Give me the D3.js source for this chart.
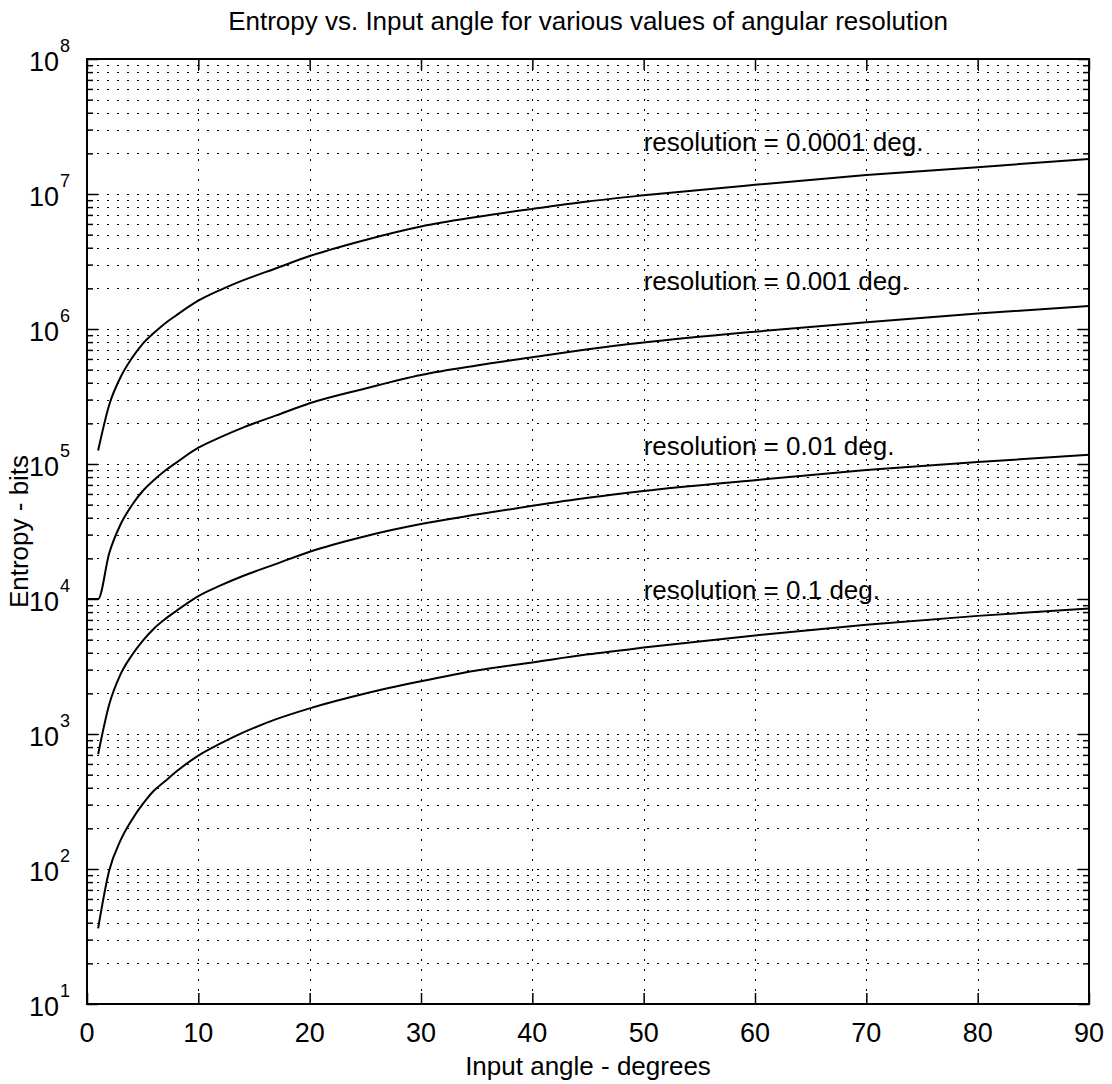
<!DOCTYPE html>
<html>
<head>
<meta charset="UTF-8">
<title>Entropy vs. Input angle</title>
<script src="https://d3js.org/d3.v7.min.js"></script>
<style>
  body { margin: 0; background: #fff; }
  text { font-family: "Liberation Sans", Arial, Helvetica, sans-serif; fill: #000; }
</style>
</head>
<body>
<script>
var w = 1112, h = 1084;

// input angle (degrees)
var angles = [1, 2, 3, 4, 5, 6, 7, 8, 10, 12, 14, 17, 20, 25, 30, 35, 40, 45, 50, 60, 70, 80, 90];

// entropy in bits
var res00001 = [1.26e5, 2.75e5, 4.37e5, 6.03e5, 7.76e5, 9.33e5, 1.10e6, 1.26e6, 1.62e6, 1.95e6, 2.29e6, 2.82e6,
                3.47e6, 4.57e6, 5.75e6, 6.76e6, 7.76e6, 8.81e6, 9.77e6, 1.17e7, 1.38e7, 1.58e7, 1.82e7];
var res0001  = [1.0e4, 2.19e4, 3.55e4, 4.9e4, 6.31e4, 7.59e4, 8.91e4, 1.02e5, 1.32e5, 1.58e5, 1.86e5, 2.29e5,
                2.82e5, 3.63e5, 4.57e5, 5.37e5, 6.17e5, 7.08e5, 7.94e5, 9.55e5, 1.12e6, 1.30e6, 1.48e6];
var res001   = [708, 1660, 2754, 3802, 4898, 6026, 7079, 8128, 1.05e4, 1.26e4, 1.48e4, 1.82e4,
                2.24e4, 2.92e4, 3.59e4, 4.22e4, 4.9e4, 5.62e4, 6.31e4, 7.59e4, 9.02e4, 1.035e5, 1.17e5];
var res01    = [36.3, 97.7, 162, 229, 302, 380, 447, 525, 692, 851, 1023, 1288,
                1549, 1995, 2455, 2951, 3388, 3890, 4365, 5370, 6457, 7499, 8511];

// the 0.001 curve also has a flat piece starting at 0 deg
var res0001Start = [0, 1.0e4];

var seriesLabels = ["resolution = 0.0001 deg.", "resolution = 0.001 deg.", "resolution = 0.01 deg.", "resolution = 0.1 deg."];
var labelAnchors = [[50, 2.1e7], [50, 1.95e6], [50, 1.17e5], [50, 1.0e4]];

var xTicks = [0, 10, 20, 30, 40, 50, 60, 70, 80, 90];
var yDecades = [1, 2, 3, 4, 5, 6, 7, 8]; // exponents

var plotL = 87, plotR = 1089, plotT = 59, plotB = 1004;

var x = d3.scaleLinear().domain([0, 90]).range([plotL, plotR]);
var y = d3.scaleLog().domain([10, 1e8]).range([plotB, plotT]);

var svg = d3.select("body").append("svg")
  .attr("width", w)
  .attr("height", h);

// minor values 2..9 for each decade
var minorVals = [];
for (var e = 1; e < 8; e++) {
  for (var k = 2; k <= 9; k++) minorVals.push(k * Math.pow(10, e));
}
var majorVals = yDecades.map(function(p) { return Math.pow(10, p); });

// dotted grid
var grid = svg.append("g")
  .attr("stroke", "#000")
  .attr("stroke-width", 1.2)
  .attr("stroke-dasharray", "1.5,8.5")
  .attr("shape-rendering", "crispEdges");

grid.selectAll(".hg")
  .data(minorVals.concat(majorVals.slice(1, -1)))
  .enter().append("line")
  .attr("x1", plotL).attr("x2", plotR)
  .attr("y1", function(d) { return Math.round(y(d)) + 0.5; })
  .attr("y2", function(d) { return Math.round(y(d)) + 0.5; });

grid.selectAll(".vg")
  .data(xTicks.slice(1, -1))
  .enter().append("line")
  .attr("y1", plotT).attr("y2", plotB)
  .attr("x1", function(d) { return Math.round(x(d)) + 0.5; })
  .attr("x2", function(d) { return Math.round(x(d)) + 0.5; });

// axes with inward ticks
function styleAxis(g) {
  g.selectAll("path").remove();
  g.selectAll("line").attr("stroke", "#000").attr("stroke-width", 1.5);
  g.selectAll("text").remove();
}

svg.append("g").attr("transform", "translate(" + plotL + ",0)")
  .call(d3.axisLeft(y).tickValues(majorVals).tickSize(-11)).call(styleAxis);
svg.append("g").attr("transform", "translate(" + plotL + ",0)")
  .call(d3.axisLeft(y).tickValues(minorVals).tickSize(-6)).call(styleAxis);
svg.append("g").attr("transform", "translate(" + plotR + ",0)")
  .call(d3.axisRight(y).tickValues(majorVals).tickSize(-11)).call(styleAxis);
svg.append("g").attr("transform", "translate(" + plotR + ",0)")
  .call(d3.axisRight(y).tickValues(minorVals).tickSize(-6)).call(styleAxis);
svg.append("g").attr("transform", "translate(0," + plotB + ")")
  .call(d3.axisBottom(x).tickValues(xTicks).tickSize(-11)).call(styleAxis);
svg.append("g").attr("transform", "translate(0," + plotT + ")")
  .call(d3.axisTop(x).tickValues(xTicks).tickSize(-11)).call(styleAxis);

// box
svg.append("rect")
  .attr("x", plotL).attr("y", plotT)
  .attr("width", plotR - plotL).attr("height", plotB - plotT)
  .attr("fill", "none").attr("stroke", "#000").attr("stroke-width", 2);

// curves
var line = d3.line()
  .x(function(d) { return x(d[0]); })
  .y(function(d) { return y(d[1]); })
  .curve(d3.curveMonotoneX);

var allSeries = [res00001, res0001, res001, res01].map(function(vals, i) {
  var pts = angles.map(function(a, j) { return [a, vals[j]]; });
  if (i === 1) pts.unshift(res0001Start);
  return pts;
});

svg.selectAll(".curve")
  .data(allSeries)
  .enter().append("path")
  .attr("d", line)
  .attr("fill", "none")
  .attr("stroke", "#000")
  .attr("stroke-width", 2);

// curve labels
svg.selectAll(".lab")
  .data(labelAnchors)
  .enter().append("text")
  .attr("x", function(d) { return x(d[0]); })
  .attr("y", function(d) { return y(d[1]); })
  .attr("font-size", "26px")
  .text(function(d, i) { return seriesLabels[i]; });

// x tick labels
svg.selectAll(".xl")
  .data(xTicks)
  .enter().append("text")
  .attr("x", function(d) { return x(d); })
  .attr("y", plotB + 38)
  .attr("text-anchor", "middle")
  .attr("font-size", "27px")
  .text(function(d) { return d; });

// y tick labels 10^n
var yl = svg.selectAll(".yl")
  .data(yDecades)
  .enter().append("text")
  .attr("x", 70)
  .attr("y", function(d) { return y(Math.pow(10, d)) + 12; })
  .attr("text-anchor", "end")
  .attr("font-size", "27px");
yl.append("tspan").text("10");
yl.append("tspan")
  .attr("font-size", "18px")
  .attr("dx", 1)
  .attr("dy", -19)
  .text(function(d) { return d; });

// titles
svg.append("text")
  .attr("x", (plotL + plotR) / 2)
  .attr("y", 30)
  .attr("text-anchor", "middle")
  .attr("font-size", "26px")
  .text("Entropy vs. Input angle for various values of angular resolution");

svg.append("text")
  .attr("x", (plotL + plotR) / 2)
  .attr("y", 1075)
  .attr("text-anchor", "middle")
  .attr("font-size", "26px")
  .text("Input angle - degrees");

svg.append("text")
  .attr("transform", "translate(28," + ((plotT + plotB) / 2) + ") rotate(-90)")
  .attr("text-anchor", "middle")
  .attr("font-size", "26px")
  .text("Entropy - bits");
</script>
</body>
</html>
